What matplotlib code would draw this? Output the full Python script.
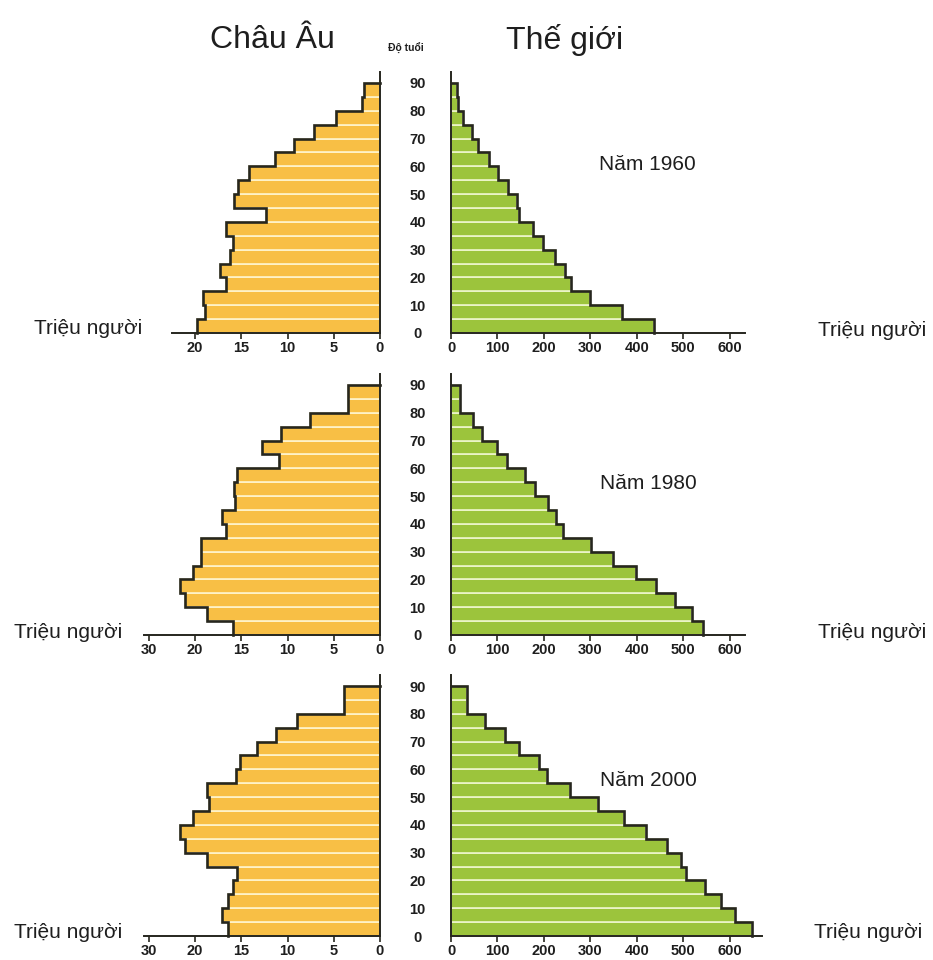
import numpy as np
import matplotlib
matplotlib.use("Agg")
import matplotlib.pyplot as plt

plt.rcParams['font.family'] = ['Liberation Sans', 'DejaVu Sans']

# ---------------- data ----------------
age_starts = np.arange(0, 90, 5)          # 0-4, 5-9, ..., 85-89(+)
age_ticks = [0, 10, 20, 30, 40, 50, 60, 70, 80, 90]
years = ["Năm 1960", "Năm 1980", "Năm 2000"]

europe_1960 = [19.8, 18.9, 19.1, 16.6, 17.3, 16.25, 15.9, 16.7, 12.3, 15.8,
               15.3, 14.2, 11.4, 9.3, 7.1, 4.8, 1.9, 1.7]
europe_1980 = [15.9, 18.75, 21.1, 21.6, 20.2, 19.3, 19.4, 16.7, 17.1, 15.7,
               15.8, 15.5, 10.9, 12.75, 10.7, 7.6, 3.5, 3.5]
europe_2000 = [16.4, 17.1, 16.4, 15.9, 15.45, 18.65, 21.1, 21.6, 20.25, 18.5,
               18.7, 15.6, 15.1, 13.3, 11.2, 9.0, 3.9, 3.9]

world_1960 = [437, 368, 299, 259, 246, 223, 199, 176, 146, 141,
              123, 101, 82, 59, 46, 26, 14, 12]
world_1980 = [542, 519, 482, 442, 398, 348, 301, 241, 226, 209,
              180, 159, 121, 99, 66, 48, 19, 19]
world_2000 = [648, 611, 582, 546, 505, 496, 464, 419, 373, 317,
              256, 206, 189, 146, 116, 73, 35, 35]

europe = [europe_1960, europe_1980, europe_2000]
world = [world_1960, world_1980, world_2000]

eu_ticks = [0, 5, 10, 15, 20, 25]
eu_tick_labels_1960 = ["0", "5", "10", "15", "20", ""]
eu_tick_labels_later = ["0", "5", "10", "15", "20", "30"]
world_ticks = [0, 100, 200, 300, 400, 500, 600]
world_tick_labels = ["0", "100", "200", "300", "400", "500", "600"]

# ---------------- style ----------------
EU_COLOR = "#F8BF45"
EU_STRIPE = "#FFF4CC"
W_COLOR = "#9CC43C"
W_STRIPE = "#EEF6CC"
LINE = "#26261e"
TXT = "#1e1e1e"

W, H = 933, 960
fig = plt.figure(figsize=(W / 100, H / 100), dpi=100)

row_base_px = [333, 635, 936]
px_per_year = 250 / 90
ymax = 94
ax_h = ymax * px_per_year / H

eu_px_per_unit = 9.25
eu_xmax = 26
eu_left_px = 380 - eu_xmax * eu_px_per_unit
w_px_per_unit = 0.4647
w_xmax = 680

eu_spine_end = [22.5, 25.5, 25.5]
w_spine_end = [633, 633, 669]


def outline(ax, values, sign_left):
    v = np.asarray(values, dtype=float)
    edges = np.append(age_starts, age_starts[-1] + 5)
    xs = [v[0]]
    ys = [0]
    for i, val in enumerate(v):
        xs += [val, val]
        ys += [edges[i], edges[i + 1]]
    xs += [0]
    ys += [edges[-1]]
    ax.plot(xs, ys, color=LINE, lw=1.9, solid_joinstyle='miter', zorder=4,
            clip_on=False)


for r in range(3):
    bottom = 1 - row_base_px[r] / H
    # Europe
    axe = fig.add_axes([eu_left_px / W, bottom, eu_xmax * eu_px_per_unit / W, ax_h])
    axe.barh(age_starts, europe[r], height=5, align='edge', color=EU_COLOR,
             edgecolor=EU_STRIPE, linewidth=1.2, zorder=2)
    outline(axe, europe[r], True)
    axe.set_xlim(eu_xmax, 0)
    axe.set_ylim(0, ymax)
    for s in ['top', 'left']:
        axe.spines[s].set_visible(False)
    axe.spines['right'].set_color(LINE)
    axe.spines['right'].set_linewidth(1.4)
    axe.spines['right'].set_zorder(5)
    axe.spines['bottom'].set_color(LINE)
    axe.spines['bottom'].set_linewidth(1.4)
    axe.spines['bottom'].set_bounds(0, eu_spine_end[r])
    axe.spines['bottom'].set_zorder(5)
    axe.set_yticks([])
    axe.set_xticks(eu_ticks)
    axe.set_xticklabels(eu_tick_labels_1960 if r == 0 else eu_tick_labels_later)
    if r == 0:
        axe.xaxis.get_major_ticks()[-1].tick1line.set_visible(False)
    axe.tick_params(axis='x', direction='out', length=4, width=1.2,
                    color=LINE, pad=1.5, labelsize=10.5, labelcolor=TXT)
    for lab in axe.get_xticklabels():
        lab.set_fontweight('bold')
    axe.patch.set_alpha(0)

    # World
    axw = fig.add_axes([451 / W, bottom, w_xmax * w_px_per_unit / W, ax_h])
    axw.barh(age_starts, world[r], height=5, align='edge', color=W_COLOR,
             edgecolor=W_STRIPE, linewidth=1.2, zorder=2)
    outline(axw, world[r], False)
    axw.set_xlim(0, w_xmax)
    axw.set_ylim(0, ymax)
    for s in ['top', 'right']:
        axw.spines[s].set_visible(False)
    axw.spines['left'].set_color(LINE)
    axw.spines['left'].set_linewidth(1.4)
    axw.spines['left'].set_zorder(5)
    axw.spines['bottom'].set_color(LINE)
    axw.spines['bottom'].set_linewidth(1.4)
    axw.spines['bottom'].set_bounds(0, w_spine_end[r])
    axw.spines['bottom'].set_zorder(5)
    axw.set_xticks(world_ticks)
    axw.set_xticklabels(world_tick_labels)
    axw.tick_params(axis='x', direction='out', length=4, width=1.2,
                    color=LINE, pad=1.5, labelsize=10.5, labelcolor=TXT)
    axw.set_yticks(age_ticks)
    axw.set_yticklabels([str(a) for a in age_ticks])
    axw.tick_params(axis='y', length=0, pad=24, labelsize=10.5, labelcolor=TXT)
    for lab in axw.get_yticklabels():
        lab.set_horizontalalignment('center')
        lab.set_fontweight('bold')
    for lab in axw.get_xticklabels():
        lab.set_fontweight('bold')
    axw.patch.set_alpha(0)

# ---------------- texts ----------------
fig.text(272 / W, 1 - 40 / H, "Châu Âu", ha='center', va='center', fontsize=23, color=TXT)
fig.text(565 / W, 1 - 40 / H, "Thế giới", ha='center', va='center', fontsize=23, color=TXT)
fig.text(406 / W, 1 - 48 / H, "Độ tuổi", ha='center', va='center', fontsize=7.5,
         fontweight='bold', color=TXT)

year_pos = [(647, 165), (648, 483), (648, 780)]
for (x, y), t in zip(year_pos, years):
    fig.text(x / W, 1 - y / H, t, ha='center', va='center', fontsize=15, color=TXT)

left_unit = [(88, 329), (68, 633), (68, 933)]
right_unit = [(872, 331), (872, 633), (868, 933)]
for (x, y) in left_unit + right_unit:
    fig.text(x / W, 1 - y / H, "Triệu người", ha='center', va='center',
             fontsize=15, color=TXT)

fig.savefig("out.png", dpi=100)
